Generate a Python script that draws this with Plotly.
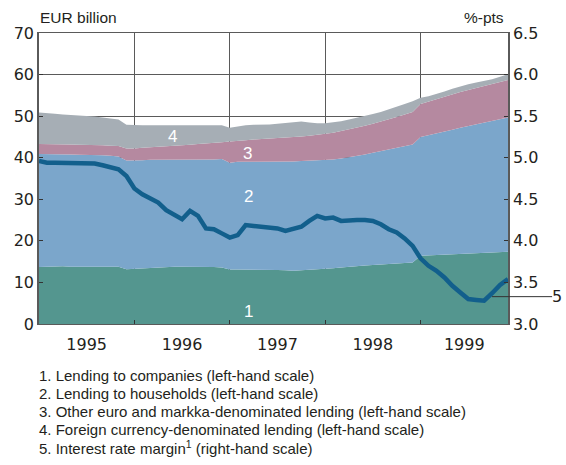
import plotly.graph_objects as go

# Month index 0 = Jan 1995 ... 59 = Dec 1999
months = list(range(60))
years = ["1995", "1996", "1997", "1998", "1999"]
year_centres = [6, 18, 30, 42, 53.5]
year_bounds = [12, 24, 36, 48]

# Cumulative tops of the stacked layers, EUR billion
top_companies = [13.7, 13.8, 13.9, 13.9, 13.8, 13.8, 13.7, 13.7, 13.7, 13.8, 13.8, 13.2,
                 13.3, 13.5, 13.6, 13.7, 13.7, 13.8, 13.8, 13.8, 13.8, 13.7, 13.7, 13.6,
                 13.1, 13.1, 13.1, 13.1, 13.1, 13.1, 13.0, 12.9, 12.8, 12.9, 13.0, 13.1,
                 13.3, 13.4, 13.6, 13.8, 14.0, 14.1, 14.2, 14.3, 14.4, 14.5, 14.6, 14.8,
                 16.4, 16.5, 16.6, 16.7, 16.8, 16.9, 17.0, 17.1, 17.2, 17.3, 17.4, 17.4]
top_households = [40.9, 40.9, 40.8, 40.8, 40.8, 40.7, 40.7, 40.6, 40.6, 40.5, 40.3, 39.3,
                  39.3, 39.4, 39.5, 39.5, 39.5, 39.6, 39.6, 39.6, 39.6, 39.6, 39.6, 39.7,
                  38.8, 39.0, 39.0, 39.1, 39.1, 39.1, 39.1, 39.1, 39.1, 39.2, 39.3, 39.3,
                  39.4, 39.6, 39.8, 40.1, 40.4, 40.8, 41.2, 41.6, 42.0, 42.3, 42.7, 43.2,
                  45.0, 45.4, 45.8, 46.2, 46.7, 47.2, 47.6, 48.0, 48.4, 48.8, 49.3, 49.7]
top_other_euro = [43.3, 43.3, 43.3, 43.2, 43.2, 43.1, 43.1, 43.0, 43.0, 42.9, 42.8, 42.2,
                  42.2, 42.4, 42.5, 42.6, 42.8, 42.9, 43.0, 43.1, 43.3, 43.4, 43.6, 43.7,
                  43.9, 44.0, 44.2, 44.4, 44.5, 44.6, 44.7, 44.8, 44.9, 45.1, 45.3, 45.5,
                  45.7, 46.0, 46.4, 46.8, 47.2, 47.7, 48.2, 48.7, 49.2, 49.8, 50.4, 51.0,
                  52.9, 53.5, 54.0, 54.6, 55.2, 55.8, 56.3, 56.8, 57.3, 57.8, 58.3, 58.7]
top_foreign = [50.9, 50.8, 50.6, 50.4, 50.3, 50.1, 50.0, 49.9, 49.7, 49.5, 49.2, 47.9,
               47.8, 47.8, 47.8, 47.8, 47.9, 47.9, 47.9, 47.8, 47.8, 47.8, 47.8, 47.8,
               47.2, 47.5, 47.8, 47.9, 47.9, 48.0, 48.2, 48.4, 48.6, 48.7, 48.5, 48.3,
               48.3, 48.5, 48.8, 49.2, 49.6, 50.0, 50.5, 51.0, 51.6, 52.2, 52.9, 53.6,
               54.4, 54.8, 55.3, 55.9, 56.6, 57.2, 57.7, 58.1, 58.5, 58.9, 59.5, 60.1]

# Interest rate margin, %-points (right-hand scale)
margin = [4.96, 4.94, 4.94, 4.94, 4.93, 4.93, 4.94, 4.93, 4.91, 4.89, 4.86, 4.78,
          4.63, 4.56, 4.51, 4.46, 4.37, 4.32, 4.26, 4.36, 4.30, 4.15, 4.14, 4.09,
          4.04, 4.07, 4.19, 4.18, 4.17, 4.16, 4.15, 4.12, 4.14, 4.17, 4.24, 4.30,
          4.27, 4.28, 4.24, 4.25, 4.25, 4.25, 4.24, 4.20, 4.14, 4.10, 4.03, 3.94,
          3.79, 3.70, 3.64, 3.56, 3.46, 3.38, 3.30, 3.29, 3.28, 3.37, 3.47, 3.54]

legend_lines = [
    "1. Lending to companies (left-hand scale)",
    "2. Lending to households (left-hand scale)",
    "3. Other euro and markka-denominated lending (left-hand scale)",
    "4. Foreign currency-denominated lending (left-hand scale)",
    "5. Interest rate margin<sup>1</sup> (right-hand scale)",
]

FONT = "Liberation Sans"
NUMFONT = "DejaVu Sans"
TXT = "#231f20"
GRID = "#5a5a5a"

layers = [
    ("1", top_companies, None, "#54968f"),
    ("2", top_households, top_companies, "#7ba6cb"),
    ("3", top_other_euro, top_households, "#b589a0"),
    ("4", top_foreign, top_other_euro, "#a6aeb5"),
]

fig = go.Figure()
for name, top, below, colour in layers:
    vals = top if below is None else [round(t - b, 2) for t, b in zip(top, below)]
    fig.add_trace(go.Scatter(
        x=months, y=vals, name=name, stackgroup="lending", mode="lines",
        line=dict(width=0, color=colour), fillcolor=colour, hoverinfo="skip",
    ))

fig.add_trace(go.Scatter(
    x=months, y=margin, name="5", mode="lines", yaxis="y2",
    line=dict(color="#125f8c", width=4.5), hoverinfo="skip",
))

# Layer numbers inside the areas
for txt, xm, yv in [("4", 16.8, 45.1), ("3", 26.2, 41.1), ("2", 26.3, 30.6), ("1", 26.4, 2.9)]:
    fig.add_annotation(x=xm, y=yv, text=txt, showarrow=False,
                       font=dict(family=FONT, size=17, color="white"))

# Pointer for the margin line
fig.add_shape(type="line", xref="paper", yref="paper", x0=0.966, x1=1.094,
              y0=0.094, y1=0.094, line=dict(color="#333", width=1))
fig.add_annotation(xref="paper", yref="paper", x=1.09, y=0.094, text="5",
                   showarrow=False, xanchor="left", yanchor="middle",
                   font=dict(family=NUMFONT, size=16, color=TXT))

# Axis titles
fig.add_annotation(xref="paper", yref="paper", x=-0.003, y=1.0, yshift=16,
                   text="EUR billion", showarrow=False, xanchor="left", yanchor="middle",
                   font=dict(family=FONT, size=15.5, color=TXT))
fig.add_annotation(xref="paper", yref="paper", x=0.995, y=1.0, yshift=16,
                   text="%-pts", showarrow=False, xanchor="right", yanchor="middle",
                   font=dict(family=FONT, size=15.5, color=TXT))

# Notes under the chart
for i, line in enumerate(legend_lines):
    fig.add_annotation(xref="paper", yref="paper", x=-0.005, y=0, yshift=-51 - 18.2 * i,
                       text=line, showarrow=False, xanchor="left", yanchor="middle",
                       font=dict(family=FONT, size=15, color=TXT))

fig.update_layout(
    width=566, height=465,
    margin=dict(l=39, r=58, t=33, b=141),
    paper_bgcolor="white", plot_bgcolor="white",
    showlegend=False,
    font=dict(family=NUMFONT, size=16, color=TXT),
    xaxis=dict(
        range=[0, 59], tickmode="array", tickvals=year_centres, ticktext=years,
        ticks="", showgrid=False, zeroline=False, ticklabelstandoff=6,
        showline=True, linecolor=GRID, linewidth=1, mirror=True,
        tickfont=dict(family=NUMFONT, size=16),
        minor=dict(tickmode="array", tickvals=year_bounds, ticks="inside", ticklen=4,
                   tickcolor="#333", showgrid=True, gridcolor=GRID, gridwidth=1),
    ),
    yaxis=dict(
        range=[0, 70], dtick=10, ticks="inside", ticklen=4, tickcolor="#333",
        showgrid=True, gridcolor=GRID, gridwidth=1, zeroline=False,
        showline=True, linecolor=GRID, linewidth=1.5,
        tickfont=dict(family=NUMFONT, size=16),
    ),
    yaxis2=dict(
        range=[3.0, 6.5], dtick=0.5, tickformat=".1f", overlaying="y", side="right",
        ticks="inside", ticklen=4, tickcolor="#333", showgrid=False, zeroline=False,
        showline=True, linecolor=GRID, linewidth=1.5,
        tickfont=dict(family=NUMFONT, size=16),
    ),
)

fig.write_html("out.html")
